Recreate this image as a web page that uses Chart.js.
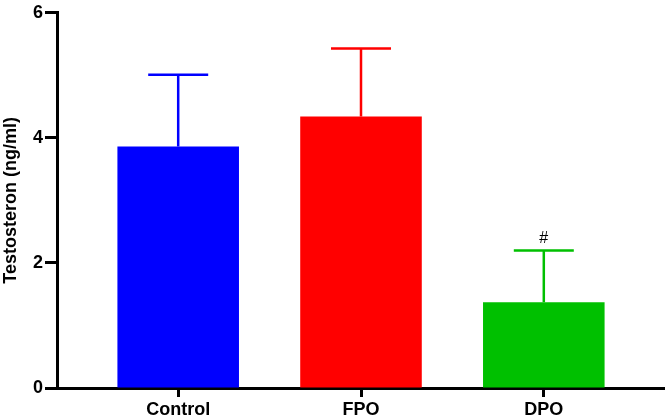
<!DOCTYPE html>
<html>
<head>
<meta charset="utf-8">
<script src="https://cdn.jsdelivr.net/npm/chart.js@4.4.0/dist/chart.umd.min.js"></script>
<style>
  body { margin: 0; background: #fff; }
  #wrap { width: 665px; height: 419px; }
</style>
</head>
<body>
<div id="wrap"><canvas id="myChart"></canvas></div>
<script>
// data
const groups = ['Control', 'FPO', 'DPO'];
const means = [3.86, 4.34, 1.37];
const sds = [1.15, 1.09, 0.83];
const marks = ['', '', '#'];
const barColors = ['#0000ff', '#ff0000', '#00c000'];
const yTicks = [0, 2, 4, 6];

const font = { family: '"Liberation Sans", Arial, sans-serif', size: 18, weight: 'bold' };

// upward error bars + significance marks
const errorBars = {
  id: 'errorBars',
  afterDatasetsDraw(chart) {
    const ctx = chart.ctx;
    const xs = chart.scales.x;
    const ys = chart.scales.y;
    ctx.save();
    means.forEach((m, i) => {
      const x = xs.getPixelForValue(i);
      const yb = ys.getPixelForValue(m);
      const yt = ys.getPixelForValue(m + sds[i]);
      ctx.strokeStyle = barColors[i];
      ctx.lineWidth = 2.5;
      ctx.beginPath();
      ctx.moveTo(x, yb);
      ctx.lineTo(x, yt);
      ctx.moveTo(x - 30, yt);
      ctx.lineTo(x + 30, yt);
      ctx.stroke();
      if (marks[i]) {
        ctx.fillStyle = '#000';
        ctx.font = '16px "Liberation Sans", Arial, sans-serif';
        ctx.textAlign = 'center';
        ctx.textBaseline = 'bottom';
        ctx.fillText(marks[i], x, yt - 4);
      }
    });
    ctx.restore();
  }
};

const ctx = document.querySelector('#myChart').getContext('2d');

const data = {
  datasets: [
    {
      data: means.map((m, i) => ({ x: i, y: m })),
      backgroundColor: barColors,
      borderWidth: 0,
      barPercentage: 0.665,
      categoryPercentage: 1,
    },
  ],
};

const config = {
  type: 'bar',
  data: data,
  options: {
    responsive: true,
    maintainAspectRatio: false,
    animation: false,
    layout: { padding: { top: 7, right: 0, left: 0, bottom: 0 } },
    plugins: {
      legend: { display: false },
      tooltip: { enabled: false },
    },
    scales: {
      x: {
        type: 'linear',
        offset: false,
        bounds: 'data',
        min: -0.663,
        max: 2.663,
        afterBuildTicks: (scale) => {
          scale.ticks = groups.map((g, i) => ({ value: i }));
        },
        afterFit: (scale) => { scale.height = 31; },
        border: { color: '#000', width: 3 },
        grid: { offset: false, drawOnChartArea: false, drawTicks: true, tickLength: 9, tickWidth: 3, tickColor: '#000' },
        ticks: {
          color: '#000',
          font: font,
          padding: 2,
          maxRotation: 0,
          autoSkip: false,
          callback: (v) => groups[v],
        },
      },
      y: {
        min: 0,
        max: 6,
        afterBuildTicks: (scale) => {
          scale.ticks = yTicks.map((v) => ({ value: v }));
        },
        afterFit: (scale) => { scale.width = 57; },
        border: { color: '#000', width: 3 },
        grid: { drawOnChartArea: false, drawTicks: true, tickLength: 12, tickWidth: 3, tickColor: '#000' },
        ticks: { color: '#000', font: font, padding: 2 },
        title: {
          display: true,
          text: 'Testosteron (ng/ml)',
          color: '#000',
          font: font,
          padding: { top: 0, bottom: 0 },
        },
      },
    },
  },
  plugins: [errorBars],
};

const myChart = new Chart(ctx, config);
</script>
</body>
</html>
